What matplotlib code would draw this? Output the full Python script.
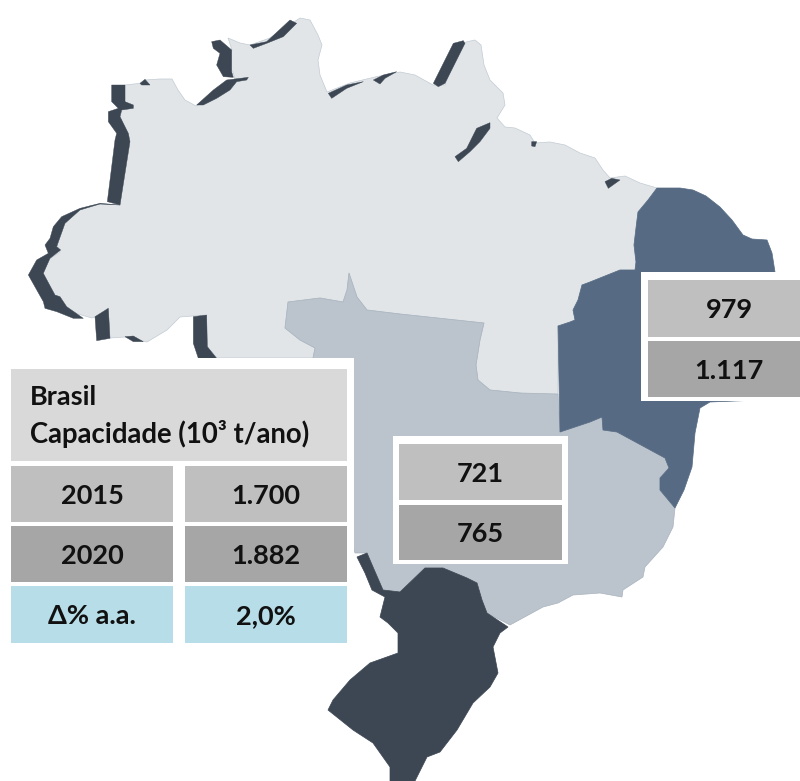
import numpy as np
import matplotlib
matplotlib.use('Agg')
import matplotlib.pyplot as plt
from matplotlib.patches import Polygon, Rectangle

plt.rcParams['font.family'] = ['Lato', 'DejaVu Sans']

# table values
header = ['Brasil', 'Capacidade (10³ t/ano)']
row_labels = ['2015', '2020', 'Δ% a.a.']
brasil_values = ['1.700', '1.882', '2,0%']
sudeste_values = ['721', '765']
nordeste_values = ['979', '1.117']

# region outlines
norte = [(125, 85), (143, 83), (145, 80), (160, 79), (172, 79), (178, 90), (185, 100), (196, 106),
         (215, 96), (235, 80), (233, 72), (225, 62), (232, 50), (228, 38), (240, 43), (250, 45),
         (270, 38), (285, 28), (300, 18), (310, 20), (318, 35), (322, 45), (318, 60), (320, 75),
         (327, 92), (350, 83), (375, 77), (400, 72), (415, 75), (433, 85), (445, 85), (450, 70),
         (458, 50), (466, 42), (475, 40), (481, 45), (484, 65), (490, 80), (503, 93), (505, 105),
         (497, 118), (505, 127), (515, 128), (530, 135), (535, 143), (550, 142), (565, 145),
         (580, 153), (595, 158), (603, 170), (610, 178), (625, 176), (640, 183), (657, 188),
         (648, 200), (638, 212), (636, 228), (634, 245), (636, 262), (635, 270), (620, 270),
         (610, 274), (590, 282), (582, 285), (578, 300), (573, 310), (575, 320), (570, 322),
         (558, 326), (558, 400), (520, 393), (490, 390), (478, 380), (476, 365), (480, 340),
         (484, 323), (400, 314), (367, 310), (357, 297), (349, 273), (347, 290), (343, 302),
         (320, 298), (288, 302), (285, 328), (300, 340), (315, 348), (313, 358), (217, 358),
         (207, 347), (205, 315), (180, 317), (167, 330), (147, 342), (125, 337), (110, 338),
         (108, 308), (100, 315), (92, 318), (78, 314), (67, 308), (55, 298), (48, 285), (43, 273),
         (48, 260), (60, 252), (55, 240), (59, 231), (65, 223), (72, 216), (80, 210), (90, 206),
         (100, 204), (120, 205), (128, 143), (128, 135), (120, 117), (122, 110), (133, 107), (125, 103)]

nordeste = [(657, 188), (668, 188), (680, 188), (693, 190), (706, 196), (720, 207), (732, 220), (743, 235),
            (752, 239), (767, 240), (772, 253), (775, 272), (790, 330), (760, 400), (710, 402),
            (700, 408), (695, 433), (692, 467), (684, 490), (675, 508), (660, 490), (660, 478),
            (669, 468), (665, 458), (617, 432), (603, 430), (602, 417), (590, 422), (560, 432),
            (558, 326), (570, 322), (575, 320), (573, 310), (578, 300), (582, 285), (590, 282),
            (610, 274), (620, 270), (635, 270), (636, 262), (634, 245), (636, 228), (638, 212), (648, 200)]

centro_sudeste = [(288, 302), (320, 298), (343, 302), (347, 290), (349, 273), (357, 297), (367, 310),
                  (400, 314), (484, 323), (480, 340), (476, 365), (478, 380), (490, 390), (520, 393),
                  (558, 394), (560, 432), (590, 422), (602, 417), (603, 430), (617, 432), (665, 458),
                  (669, 468), (660, 478), (660, 490), (675, 508), (673, 527), (663, 547), (645, 567),
                  (643, 577), (623, 590), (622, 597), (600, 593), (573, 595), (558, 603), (543, 607),
                  (510, 625), (487, 613), (482, 600), (477, 583), (467, 578), (443, 568), (425, 568),
                  (400, 592), (383, 590), (367, 553), (355, 553), (340, 500), (330, 400), (313, 358),
                  (315, 348), (300, 340), (285, 328)]

sul = [(508, 627), (500, 633), (493, 647), (498, 673), (490, 687), (473, 703), (457, 730), (440, 752),
       (427, 757), (415, 781), (390, 781), (390, 767), (373, 743), (353, 730), (328, 710), (333, 700),
       (350, 680), (370, 663), (398, 653), (398, 633), (388, 623), (380, 617), (385, 597), (372, 590),
       (365, 573), (357, 557), (367, 553), (373, 567), (383, 590), (400, 592), (425, 568), (443, 568),
       (467, 578), (477, 583), (482, 600), (487, 613)]

# dark shadow strips along the north and west border (crop coordinates, 3x)
sombras = [
    [(335, 255), (375, 255), (375, 305), (400, 315), (400, 325), (365, 330), (360, 350), (385, 400),
     (390, 425), (360, 615), (322, 605), (345, 420), (350, 400), (325, 365), (325, 335), (355, 325),
     (335, 305)],
    [(360, 615), (300, 610), (240, 625), (185, 650), (160, 680), (150, 715), (135, 735), (145, 760),
     (110, 780), (85, 825), (130, 905), (135, 925), (170, 935), (220, 955), (250, 955), (200, 920),
     (180, 890), (165, 885), (130, 820), (150, 775), (182, 750), (170, 740), (195, 670), (240, 630),
     (300, 612)],
    [(285, 950), (325, 925), (330, 1015), (290, 1022)],
    [(375, 1010), (400, 1008), (430, 1025), (400, 1025)],
    [(580, 950), (620, 945), (622, 1040), (650, 1075), (595, 1075), (580, 1030)],
    [(420, 250), (435, 238), (450, 255), (425, 255)],
    [(590, 315), (640, 270), (680, 240), (745, 232), (740, 240), (710, 245), (690, 270), (650, 295),
     (610, 315)],
    [(635, 125), (660, 120), (695, 150), (695, 215), (700, 232), (670, 230), (650, 195), (660, 160),
     (640, 145)],
    [(750, 135), (800, 125), (870, 60), (890, 70), (850, 110), (800, 130), (760, 145)],
    [(985, 280), (1040, 255), (1090, 245), (1040, 265), (995, 295)],
    [(1120, 240), (1150, 225), (1190, 215), (1155, 235), (1140, 252)],
    [(1300, 250), (1330, 190), (1360, 130), (1390, 122), (1395, 130), (1365, 190), (1335, 250), (1315, 260)],
    [(1365, 470), (1400, 445), (1430, 385), (1470, 368), (1470, 385), (1440, 425), (1410, 455), (1375, 485)],
    [(1595, 425), (1610, 425), (1605, 440), (1595, 438)],
    [(1815, 545), (1835, 535), (1860, 540), (1825, 565)],
]

fig = plt.figure(figsize=(8, 7.81), dpi=100)
ax = fig.add_axes([0, 0, 1, 1])
ax.set_xlim(0, 800)
ax.set_ylim(781, 0)
ax.axis('off')

ax.add_patch(Polygon(norte, fc='#e1e5e8', ec='#c2cbd3', lw=0.5, zorder=1))
ax.add_patch(Polygon(centro_sudeste, fc='#bbc3cc', ec='#a9b4bf', lw=0.5, zorder=2))
ax.add_patch(Polygon(nordeste, fc='#566b83', ec='#566b83', lw=0.5, zorder=3))
ax.add_patch(Polygon(sul, fc='#3c4753', ec='#3c4753', lw=0.5, zorder=3))
for s in sombras:
    ax.add_patch(Polygon(np.array(s) / 3, fc='#3c4753', ec='#3c4753', lw=0.3, zorder=3))


def cell(x0, y0, x1, y1, color, txt=None, size=19.5, tx=None):
    ax.add_patch(Rectangle((x0, y0), x1 - x0, y1 - y0, fc=color, ec='none', zorder=5))
    if txt is not None:
        if tx is None:
            tx = (x0 + x1) / 2
        ax.text(tx, (y0 + y1) / 2 + 2, txt, ha='center', va='center', fontsize=size,
                fontweight='bold', color='#111111', zorder=6)


# white backdrops
ax.add_patch(Rectangle((0, 358), 354, 290, fc='white', ec='none', zorder=4))
ax.add_patch(Rectangle((393, 436), 175, 128, fc='white', ec='none', zorder=4))
ax.add_patch(Rectangle((641, 272), 159, 129, fc='white', ec='none', zorder=4))

# Brasil table
cell(11, 369, 347, 461, '#d9d9d9')
ax.text(30, 397, header[0], ha='left', va='center', fontsize=19.5, fontweight='bold', color='#111111', zorder=6)
ax.text(30, 434, header[1], ha='left', va='center', fontsize=19.8, fontweight='bold', color='#111111', zorder=6)
colors = ['#bfbfbf', '#a6a6a6', '#b7dde8']
tops = [466, 526, 586]
bottoms = [522, 582, 643]
for i in range(3):
    cell(11, tops[i], 173, bottoms[i], colors[i], row_labels[i])
    cell(185, tops[i], 347, bottoms[i], colors[i], brasil_values[i])

# Sudeste table
cell(399, 444, 562, 500, colors[0], sudeste_values[0])
cell(399, 505, 562, 560, colors[1], sudeste_values[1])

# Nordeste table, text sits right of the cell centre in the picture
cell(648, 280, 800, 337, colors[0], nordeste_values[0], tx=729)
cell(648, 341, 800, 397, colors[1], nordeste_values[1], tx=729)

fig.savefig('out.png', dpi=100)
